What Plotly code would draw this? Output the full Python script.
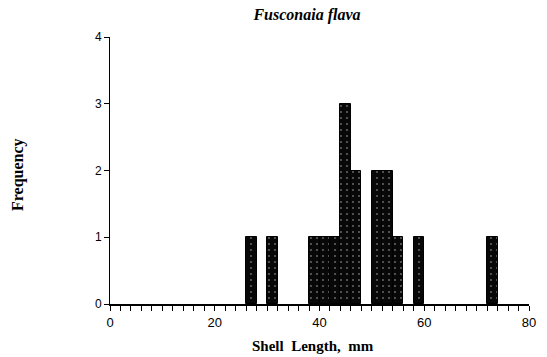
import plotly.graph_objects as go

# Shell length histogram, 2 mm bins (left edges) and counts
bin_left = [26, 30, 38, 40, 42, 44, 46, 50, 52, 54, 58, 72]
counts = [1, 1, 1, 1, 1, 3, 2, 2, 2, 1, 1, 1]
bin_width = 2

x_ticks = [0, 20, 40, 60, 80]
y_ticks = [0, 1, 2, 3, 4]

fig = go.Figure()
fig.add_trace(go.Bar(
    x=bin_left,
    y=counts,
    width=[bin_width] * len(bin_left),
    offset=0,
    marker=dict(
        color="#080808",
        line=dict(color="#000000", width=1),
        pattern=dict(shape=".", fgcolor="#d0d0d0", bgcolor="#080808",
                     size=6, solidity=0.08),
    ),
    showlegend=False,
))

serif = "Liberation Serif"
sans = "Liberation Sans"

fig.update_layout(
    width=547, height=357,
    margin=dict(l=110, r=18, t=37, b=53),
    paper_bgcolor="white", plot_bgcolor="white",
    bargap=0,
    xaxis=dict(
        range=[0, 80], tickvals=x_ticks, showgrid=False, zeroline=False,
        showline=True, linecolor="black", linewidth=2,
        ticks="outside", ticklen=5, tickwidth=1, tickcolor="black",
        minor=dict(dtick=2, ticks="outside", ticklen=5, tickwidth=1, tickcolor="black"),
        tickfont=dict(family=sans, size=13, color="black"),
    ),
    yaxis=dict(
        range=[0, 4], tickvals=y_ticks, showgrid=False, zeroline=False,
        showline=True, linecolor="black", linewidth=1,
        ticks="outside", ticklen=5, tickwidth=1, tickcolor="black",
        tickfont=dict(family=sans, size=12, color="black"),
    ),
    title=dict(
        text="<b><i>Fusconaia flava</i></b>",
        x=307 / 547, xanchor="center", xref="container",
        y=1 - 14 / 357, yanchor="middle", yref="container",
        font=dict(family=serif, size=16, color="black"),
    ),
    annotations=[
        dict(text="<b>Shell  Length,  mm</b>", xref="paper", yref="paper",
             x=(313 - 110) / 419, y=-(346 - 304) / 267, xanchor="center", yanchor="middle",
             showarrow=False, font=dict(family=serif, size=15, color="black")),
        dict(text="<b>Frequency</b>", xref="paper", yref="paper",
             x=-(110 - 18) / 419, y=(304 - 175) / 267, xanchor="center", yanchor="middle",
             textangle=-90, showarrow=False,
             font=dict(family=serif, size=16, color="black")),
    ],
)

fig.write_html("out.html")
